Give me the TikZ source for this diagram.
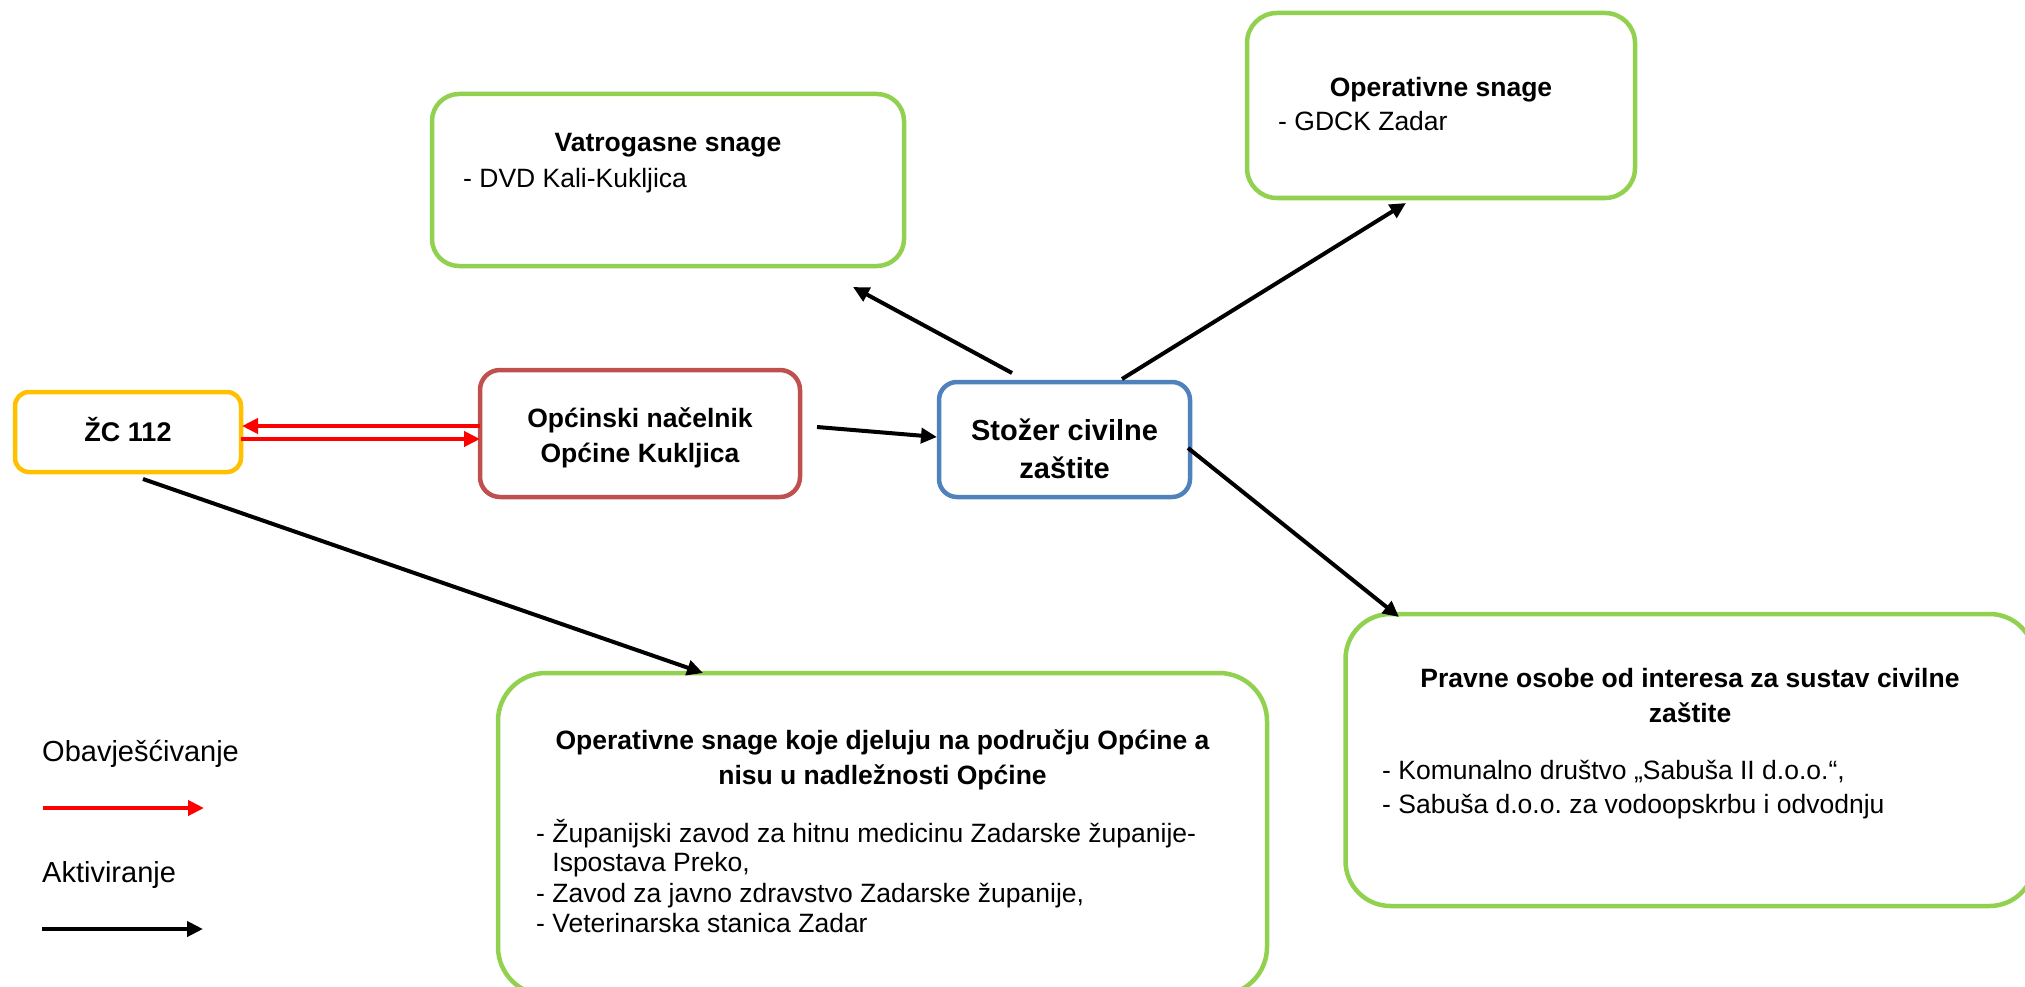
\documentclass[tikz,border=0pt]{standalone}
\usepackage{fontspec}
\setmainfont{Liberation Sans}
\usetikzlibrary{calc,arrows.meta}
\definecolor{cgreen}{HTML}{92D050}
\definecolor{cyellow}{HTML}{FFC000}
\definecolor{cbrown}{HTML}{C0504D}
\definecolor{cblue}{HTML}{4F81BD}
\definecolor{cred}{HTML}{FF0000}
\frenchspacing
\begin{document}
\begin{tikzpicture}[x=1pt,y=-1pt,
  box/.style={draw=#1, line width=4.5pt, inner sep=0pt, outer sep=0pt},
  ttl/.style={font=\bfseries\fontsize{26.5}{32}\selectfont, inner sep=0pt, anchor=base},
  bigttl/.style={font=\bfseries\fontsize{29}{35}\selectfont, inner sep=0pt, anchor=base},
  txt/.style={font=\fontsize{26.5}{32}\selectfont, inner sep=0pt, anchor=base west},
  lgd/.style={font=\fontsize{29}{35}\selectfont, inner sep=0pt, anchor=base west},
  act/.style={line width=4pt, -{Triangle[length=16pt,width=15pt]}},
  inf/.style={act, draw=cred, -{Triangle[length=16pt,width=15pt,fill=cred]}}]
\useasboundingbox (0,0) rectangle (2025,987);
\clip (0,0) rectangle (2025,987);

% boxes
\node[box=cyellow, rounded corners=14pt, minimum width=226pt, minimum height=80pt] (zc) at (128,432) {};
\node[box=cbrown, rounded corners=20pt, minimum width=320pt, minimum height=127pt] (opc) at (640,433.5) {};
\node[box=cblue, rounded corners=18pt, minimum width=251pt, minimum height=115pt] (st) at (1064.5,439.5) {};
\node[box=cgreen, rounded corners=27pt, minimum width=472pt, minimum height=172pt] (vat) at (668,180) {};
\node[box=cgreen, rounded corners=30pt, minimum width=388pt, minimum height=185pt] (op) at (1441,105.5) {};
\node[box=cgreen, rounded corners=48pt, minimum width=769pt, minimum height=322pt] (bb) at (882.5,834) {};
\node[box=cgreen, rounded corners=45pt, minimum width=689pt, minimum height=292pt] (pr) at (1690,760) {};

% texts
\node[ttl, font=\bfseries\fontsize{27}{32}\selectfont] (zct) at (128,441) {ŽC 112};
\node[ttl] (opc1) at (640,427) {Općinski načelnik};
\node[ttl] (opc2) at (640,462) {Općine Kukljica};
\node[bigttl] (st1) at (1064.5,440) {Stožer civilne};
\node[bigttl] (st2) at (1064.5,478) {zaštite};
\node[ttl] (vatt) at (668,152) {Vatrogasne snage};
\node[txt] (vatb) at (463,188) {- DVD Kali-Kukljica};
\node[ttl] (opt) at (1441,97) {Operativne snage};
\node[txt] (opb) at (1278,131) {- GDCK Zadar};
\node[ttl] (bbt1) at (882.5,749) {Operativne snage koje djeluju na području Općine a};
\node[ttl] (bbt2) at (882.5,784) {nisu u nadležnosti Općine};
\node[txt] (bbb1) at (536,842) {- Županijski zavod za hitnu medicinu Zadarske županije-};
\node[txt] (bbb2) at (536,871) {\phantom{- }Ispostava Preko,};
\node[txt] (bbb3) at (536,902) {- Zavod za javno zdravstvo Zadarske županije,};
\node[txt] (bbb4) at (536,932) {- Veterinarska stanica Zadar};
\node[ttl] (prt1) at (1690,687) {Pravne osobe od interesa za sustav civilne};
\node[ttl] (prt2) at (1690,722) {zaštite};
\node[txt] (prb1) at (1382,779) {- Komunalno društvo „Sabuša II d.o.o.“,};
\node[txt] (prb2) at (1382,813) {- Sabuša d.o.o. za vodoopskrbu i odvodnju};

% legend
\node[lgd] (lg1) at (42,761) {Obavješćivanje};
\node[lgd] (lg2) at (42,882) {Aktiviranje};
\coordinate (lr1) at (43,808);
\coordinate (lr2) at (204,808);
\coordinate (lb1) at (42,929);
\coordinate (lb2) at (203,929);
\draw[inf] (lr1) -- (lr2);
\draw[act] (lb1) -- (lb2);

% connectors
\draw[inf] ($(opc.west)+(0,-7.5)$) -- ($(zc.east)+(1,-6)$);
\draw[inf] ($(zc.east)+(0,7)$) -- ($(opc.west)+(0,5.5)$);
\draw[act] ($(opc.east)+(17,-6.5)$) -- ($(st.west)+(-2,-2.5)$);
\draw[act] ($(st.north)+(-52.5,-9)$) -- ($(vat.south)+(185,21)$);
\draw[act] ($(st.north)+(57.5,-3)$) -- ($(op.south)+(-35,5)$);
\draw[act] ($(st.east)+(-2,8.5)$) -- ($(pr.north west)+(53.5,3)$);
\draw[act] ($(zc.south)+(15,7)$) -- ($(bb.north)+(-179.5,0)$);
\end{tikzpicture}
\end{document}
